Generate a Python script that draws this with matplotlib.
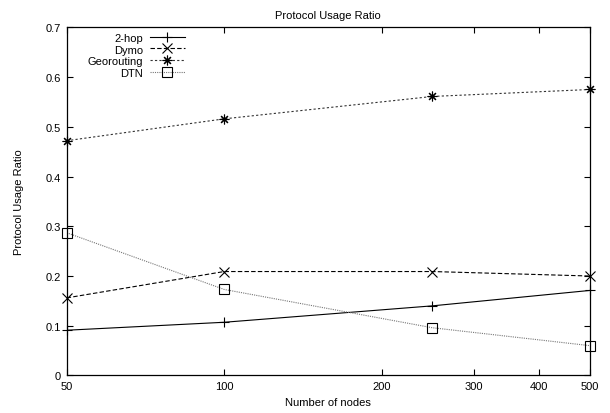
import matplotlib
matplotlib.use('Agg')
import matplotlib.pyplot as plt

plt.rcParams['font.family'] = ['Liberation Sans', 'DejaVu Sans']
plt.rcParams['font.size'] = 8

# data
nodes = [50, 100, 250, 500]
two_hop = [0.091, 0.107, 0.140, 0.171]
dymo = [0.156, 0.209, 0.209, 0.200]
georouting = [0.472, 0.516, 0.561, 0.575]
dtn = [0.287, 0.173, 0.096, 0.060]

xticks = [50, 100, 200, 300, 400, 500]
yticks = [0, 0.1, 0.2, 0.3, 0.4, 0.5, 0.6, 0.7]

fig = plt.figure(figsize=(6.1, 4.14), dpi=100)
ax = fig.add_axes([0.1093, 0.0906, 0.967 - 0.1093, 0.9316 - 0.0906])

series = [
    ('2-hop', two_hop, '-', '+', 'black'),
    ('Dymo', dymo, (0, (4, 2)), 'x', 'black'),
    ('Georouting', georouting, (0, (2, 2)), (8, 2, 0), '#333333'),
    ('DTN', dtn, (0, (1, 1)), 's', '#777777'),
]

handles = []
for name, vals, ls, mk, lc in series:
    # gnuplot-like linespoints: line in its colour, markers in black
    ax.plot(nodes, vals, ls=ls, color=lc, lw=0.8)
    ax.plot(nodes, vals, ls='none', marker=mk, ms=7, mew=0.8,
            mfc='none', mec='black', clip_on=False)
    h, = ax.plot([], [], ls=ls, color=lc, lw=0.8, marker=mk, ms=7, mew=0.8,
                 mfc='none', mec='black', label=name)
    handles.append(h)

ax.legend(handles=handles, loc='upper left', bbox_to_anchor=(0.025, 1.007),
          frameon=False, markerfirst=False, handlelength=3.2, handletextpad=0.6,
          labelspacing=0.1, borderpad=0.2, handleheight=0.9, numpoints=1)

ax.set_xscale('log')
ax.set_xlim(50, 500)
ax.set_ylim(0, 0.7)
ax.set_xticks(xticks)
ax.set_xticklabels([str(v) for v in xticks])
ax.xaxis.set_minor_locator(matplotlib.ticker.NullLocator())
ax.set_yticks(yticks)
ax.set_yticklabels(['0'] + [f'{v:.1f}' for v in yticks[1:]])
ax.tick_params(direction='in', top=True, right=True, length=4.5, width=0.8, pad=4,
               labelsize=8)
for s in ax.spines.values():
    s.set_linewidth(0.9)

ax.set_xlabel('Number of nodes', fontsize=8, labelpad=4)
ax.set_ylabel('Protocol Usage Ratio', fontsize=8, labelpad=16)
ax.set_title('Protocol Usage Ratio', fontsize=8, pad=7)

fig.savefig('out.png', dpi=100)
